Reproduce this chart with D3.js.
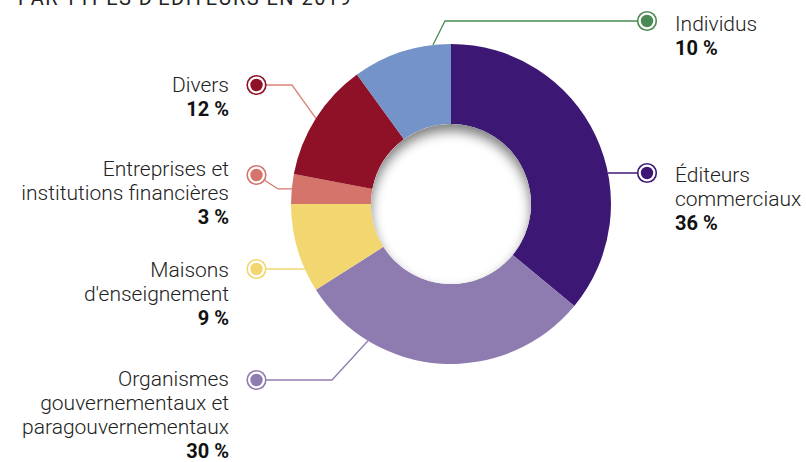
<!DOCTYPE html>
<html><head><meta charset="utf-8">
<script src="https://cdn.jsdelivr.net/npm/d3@7"></script>
<style>
html,body{margin:0;padding:0;background:#fff;}
svg{display:block;}
</style></head>
<body>
<svg id="chart" width="806" height="462"></svg>
<script>
// ---- data ----
const title = "PAR TYPES D'ÉDITEURS EN 2019";
const categories = ["Éditeurs commerciaux", "Organismes gouvernementaux et paragouvernementaux", "Maisons d'enseignement", "Entreprises et institutions financières", "Divers", "Individus"];
const values = [36, 30, 9, 3, 12, 10];
const labelLines = [["Éditeurs", "commerciaux"], ["Organismes", "gouvernementaux et", "paragouvernementaux"], ["Maisons", "d'enseignement"], ["Entreprises et", "institutions financières"], ["Divers"], ["Individus"]];
const valueLabels = ["36 %", "30 %", "9 %", "3 %", "12 %", "10 %"];
const sliceColors = ["#3c1874", "#8e7cb0", "#f2d66f", "#d4746a", "#8f1127", "#7494c9"];
const markerColors = ["#3c1874", "#8e7cb0", "#f2d66f", "#d4746a", "#8f1127", "#4b8b53"];
const lineColors = ["#3c1874", "#8e7cb0", "#f2d66f", "#d4746a", "#d98574", "#4b8b53"];

// ---- layout ----
const cx = 451, cy = 204, R = 160, r0 = 80;
const layout = [
  {side: "right", my: 173, kind: "h", ty: 182},
  {side: "left", my: 380, kind: "elbowMarker", frac: 0.756, ex: 332, ty: 386},
  {side: "left", my: 269, kind: "h", ty: 277},
  {side: "left", my: 175, kind: "elbowAnchor", frac: 0.5, ex: 278, ty: 176},
  {side: "left", my: 85, kind: "elbowMarker", frac: 0.5, ex: 292, ty: 92},
  {side: "right", my: 21, kind: "elbowMarker", frac: 0.82, ex: 445, ty: 31}
];
const markerX = {left: 256.5, right: 647};
const textX = {left: 229, right: 675};
const lineH = 24;

const svg = d3.select("#chart");
const defs = svg.append("defs");

// title
svg.append("text").attr("x", 18).attr("y", 5)
  .attr("font-family", "Roboto, sans-serif").attr("font-size", 20)
  .attr("letter-spacing", 1.2).attr("fill", "#222")
  .attr("textLength", 334).attr("lengthAdjust", "spacing")
  .text(title);

const pie = d3.pie().sort(null).value(d => d)(values);
const arc = d3.arc().innerRadius(r0).outerRadius(R);

const g = svg.append("g").attr("transform", `translate(${cx},${cy})`);

// leader lines (under slices/markers)
const lines = svg.append("g");
pie.forEach((p, i) => {
  const L = layout[i];
  const mx = markerX[L.side];
  let pts;
  if (L.kind === "h") {
    const dy = L.my - cy;
    const dx = Math.sqrt(R * R - dy * dy) * (L.side === "right" ? 1 : -1);
    pts = [[cx + dx, L.my], [mx, L.my]];
  } else {
    const a = p.startAngle + (p.endAngle - p.startAngle) * L.frac;
    const ax = cx + R * Math.sin(a), ay = cy - R * Math.cos(a);
    if (L.kind === "elbowMarker") pts = [[ax, ay], [L.ex, L.my], [mx, L.my]];
    else pts = [[ax, ay], [L.ex, ay], [mx, L.my]];
  }
  lines.append("path").attr("d", d3.line()(pts))
    .attr("fill", "none").attr("stroke", lineColors[i]).attr("stroke-width", 1.3);
});

g.selectAll("path.slice").data(pie).join("path")
  .attr("class", "slice").attr("d", arc).attr("fill", (d, i) => sliceColors[i]);

// inner shadow in hole
defs.append("clipPath").attr("id", "hole").append("circle").attr("r", r0);
const blur = defs.append("filter").attr("id", "blur").attr("x", "-50%").attr("y", "-50%").attr("width", "200%").attr("height", "200%");
blur.append("feGaussianBlur").attr("stdDeviation", 6);
g.append("circle").attr("r", r0).attr("fill", "#fff");
g.append("g").attr("clip-path", "url(#hole)")
  .append("circle").attr("cx", 0).attr("cy", 7).attr("r", r0 + 12)
  .attr("fill", "none").attr("stroke", "rgba(0,0,0,0.5)").attr("stroke-width", 24)
  .attr("filter", "url(#blur)");

// markers
pie.forEach((p, i) => {
  const L = layout[i];
  const mg = svg.append("g").attr("transform", `translate(${markerX[L.side]},${L.my})`);
  mg.append("circle").attr("r", 9.3).attr("fill", "#fff").attr("stroke", markerColors[i]).attr("stroke-width", 1.6);
  mg.append("circle").attr("r", 6.2).attr("fill", markerColors[i]);
});

// labels
pie.forEach((p, i) => {
  const L = layout[i];
  const t = svg.append("text").attr("x", textX[L.side]).attr("y", L.ty)
    .attr("text-anchor", L.side === "left" ? "end" : "start")
    .attr("font-family", "Roboto, sans-serif");
  labelLines[i].forEach((s, k) => {
    t.append("tspan").attr("x", textX[L.side]).attr("dy", k === 0 ? 0 : lineH)
      .attr("font-size", 21).attr("font-weight", 300).attr("fill", "#222").text(s);
  });
  t.append("tspan").attr("x", textX[L.side]).attr("dy", lineH)
    .attr("font-size", 20).attr("font-weight", 700).attr("fill", "#111").text(valueLabels[i]);
});
</script>
</body></html>
